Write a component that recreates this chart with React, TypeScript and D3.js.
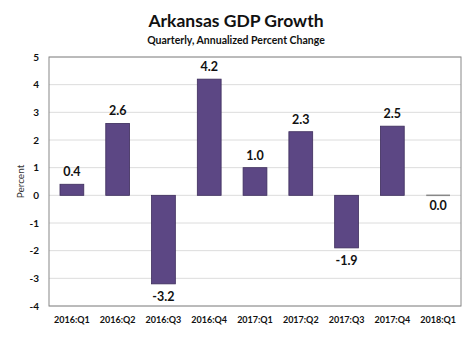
import React from "react";
import * as d3 from "d3";

const categories = ["2016:Q1","2016:Q2","2016:Q3","2016:Q4","2017:Q1","2017:Q2","2017:Q3","2017:Q4","2018:Q1"];
const values = [0.4, 2.6, -3.2, 4.2, 1.0, 2.3, -1.9, 2.5, 0.0];
const yTicks = [5, 4, 3, 2, 1, 0, -1, -2, -3, -4];
const title = "Arkansas GDP Growth";
const subtitle = "Quarterly, Annualized Percent Change";
const yTitle = "Percent";

export default function App() {
  const W = 474, H = 341;
  const left = 49, right = 461, top = 57, bottom = 306;
  const font = "Lato, 'Open Sans', sans-serif";
  const x = d3.scaleBand<string>().domain(categories).range([left, right]).paddingInner(0.48).paddingOuter(0.24);
  const y = d3.scaleLinear().domain([-4, 5]).range([bottom, top]);
  const fill = "#5c4784";
  return (
    <svg width={W} height={H} style={{ position: "absolute", left: 0, top: 0, background: "#fff" }}>
      <rect x={0} y={0} width={W} height={H} fill="#fff" />
      <text x={236} y={27} textAnchor="middle" fontFamily={font} fontWeight="bold" fontSize={17.5} fill="#111">{title}</text>
      <text x={236} y={44} textAnchor="middle" fontFamily={font} fontWeight="bold" fontSize={10.5} fill="#111">{subtitle}</text>
      {yTicks.map(t => (
        <g key={t}>
          <line x1={left} x2={right} y1={y(t)} y2={y(t)} stroke="#dcdcdc" strokeWidth={1} />
          <text x={39} y={y(t)} dy="0.35em" textAnchor="end" fontFamily={font} fontWeight="bold" fontSize={10} fill="#111">{t}</text>
        </g>
      ))}
      <text transform={`translate(20,${(top + bottom) / 2}) rotate(-90)`} textAnchor="middle" dy="0.35em" fontFamily={font} fontSize={10} fill="#333">{yTitle}</text>
      {values.map((v, i) => {
        const cx = x(categories[i])! + x.bandwidth() / 2;
        if (v === 0) {
          return (
            <g key={i}>
              <line x1={x(categories[i])!} x2={x(categories[i])! + x.bandwidth()} y1={y(0)} y2={y(0)} stroke="#888" strokeWidth={1.5} />
              <text x={cx} y={y(0) + 15} textAnchor="middle" fontFamily={font} fontWeight="bold" fontSize={12.5} fill="#111">{v.toFixed(1)}</text>
            </g>
          );
        }
        const y0 = y(Math.max(0, v)), y1 = y(Math.min(0, v));
        return (
          <g key={i}>
            <rect x={x(categories[i])!} y={y0} width={x.bandwidth()} height={y1 - y0} fill={fill} stroke="#3d2d5c" strokeWidth={0.8} />
            <text x={cx} y={v > 0 ? y0 - 8 : y1 + 17} textAnchor="middle" fontFamily={font} fontWeight="bold" fontSize={12.5} fill="#111">{v.toFixed(1)}</text>
          </g>
        );
      })}
      <rect x={left} y={top} width={right - left} height={bottom - top} fill="none" stroke="#888" strokeWidth={1} />
      {categories.map(c => (
        <text key={c} x={x(c)! + x.bandwidth() / 2} y={323} textAnchor="middle" fontFamily={font} fontWeight="bold" fontSize={9} fill="#111">{c}</text>
      ))}
    </svg>
  );
}
